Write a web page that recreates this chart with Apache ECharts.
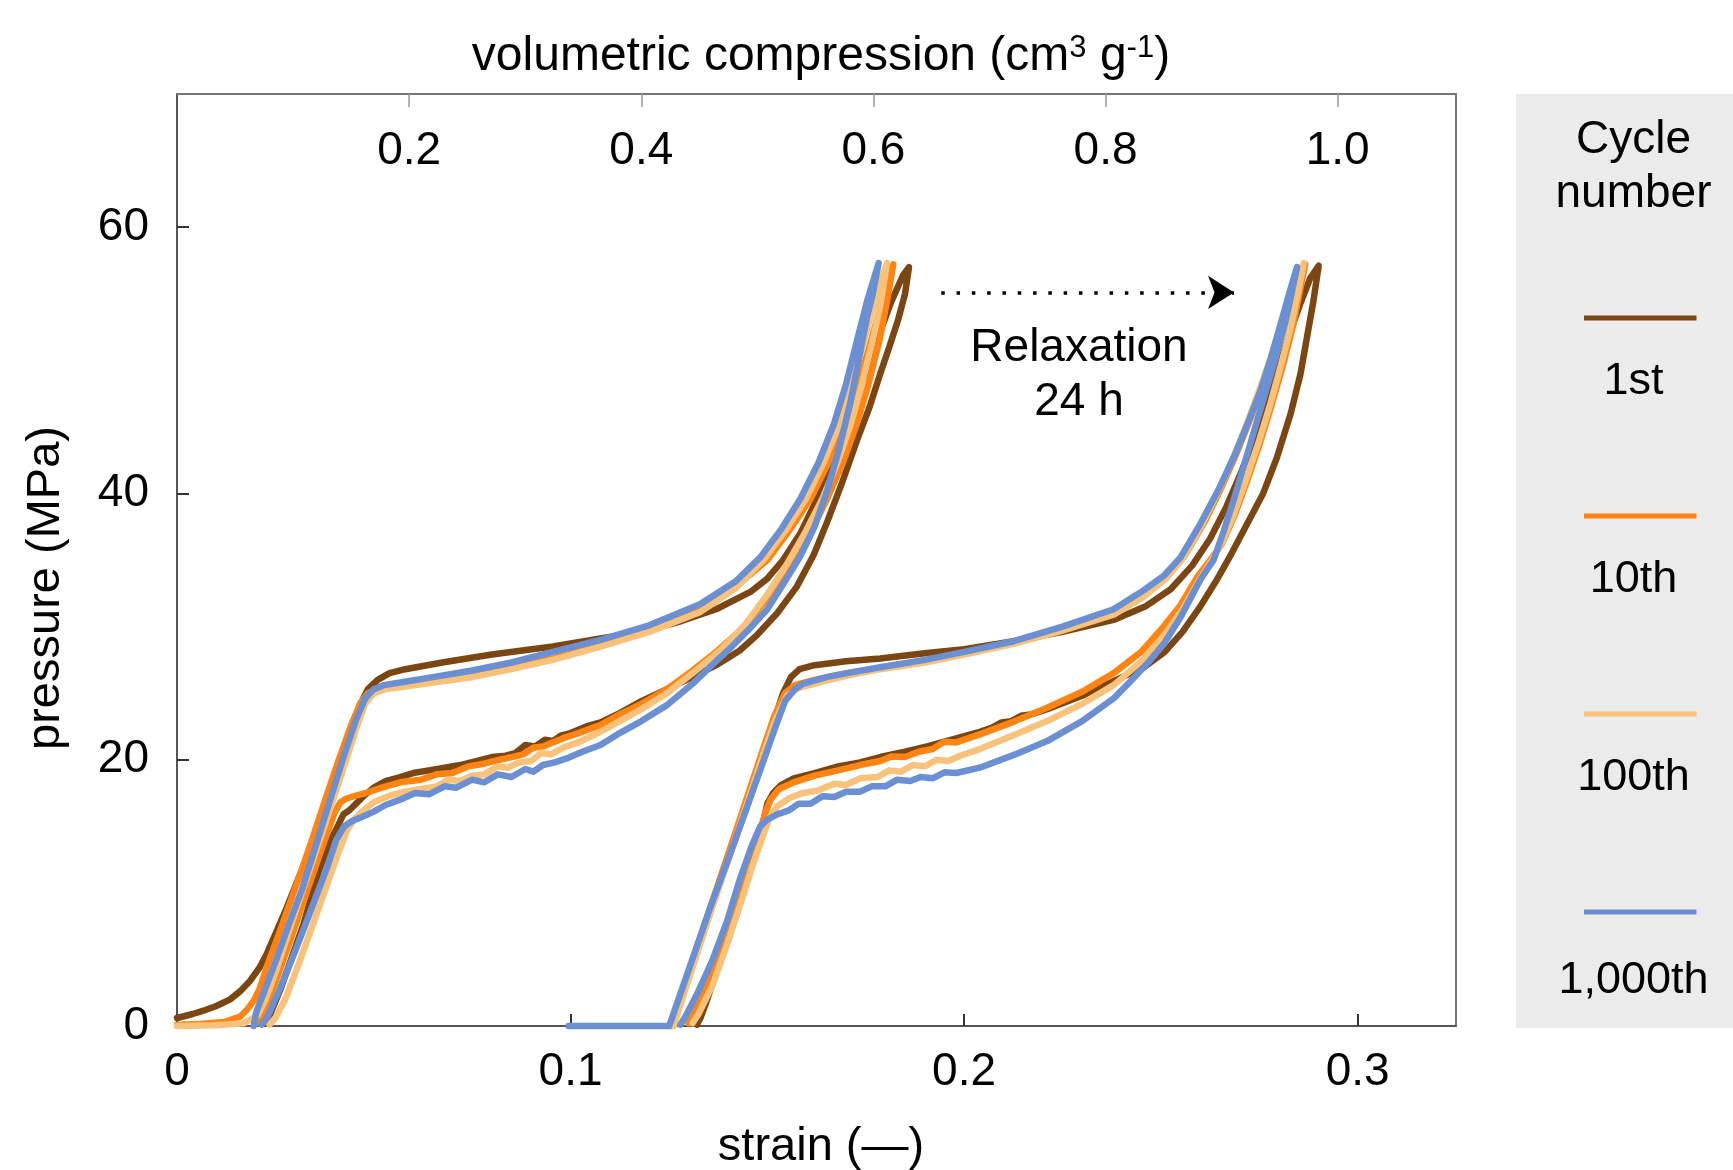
<!DOCTYPE html>
<html><head><meta charset="utf-8">
<script src="https://cdn.jsdelivr.net/npm/echarts@6/dist/echarts.min.js"></script>
<style>html,body{margin:0;padding:0;background:#fff}#chart{width:1733px;height:1170px}</style>
</head><body><div id="chart"></div>
<script>
// ---------- data ----------
const strainTicks = [0, 0.1, 0.2, 0.3];
const pressureTicks = [0, 20, 40, 60];
const volumeTicks = [0.2, 0.4, 0.6, 0.8, 1.0];
const cycleNames = ['1st', '10th', '100th', '1,000th'];

// [strain, pressure MPa]; each loop = loading branch then unloading branch
const cycle1First = [[0.000,0.6],[0.004,0.9],[0.0067,1.15],[0.010,1.5],[0.0135,2.0],[0.016,2.6],[0.0186,3.4],[0.021,4.4],[0.0228,5.4],[0.025,6.9],[0.0279,8.9],[0.031,11.2],[0.0339,13.3],[0.0365,15.5],[0.0389,17.6],[0.0415,19.9],[0.044,22.1],[0.0465,24.1],[0.0485,25.3],[0.051,26.0],[0.054,26.5],[0.058,26.8],[0.0674,27.3],[0.080,27.9],[0.0955,28.5],[0.1076,29.1],[0.118,29.6],[0.128,30.4],[0.137,31.3],[0.1457,32.6],[0.150,33.6],[0.154,35.0],[0.1584,37.0],[0.162,39.2],[0.166,42.0],[0.170,45.0],[0.174,48.3],[0.178,51.6],[0.1815,54.4],[0.1845,56.4],[0.1860,57.0],
[0.1850,55.0],[0.1832,53.0],[0.1810,51.0],[0.1787,49.0],[0.1760,46.5],[0.1728,44.0],[0.1690,40.8],[0.1650,37.7],[0.1618,35.4],[0.1575,33.0],[0.1525,31.0],[0.1475,29.4],[0.1430,28.2],[0.1370,27.1],[0.1310,26.2],[0.1245,25.3],[0.1180,24.4],[0.1125,23.5],[0.1076,22.8],[0.1040,22.5],[0.1000,22.0],[0.0975,21.8],[0.0955,21.4],[0.0935,21.5],[0.0910,21.0],[0.0885,21.1],[0.0860,20.5],[0.0835,20.3],[0.0800,20.2],[0.0760,19.9],[0.0720,19.6],[0.0680,19.4],[0.0640,19.2],[0.0600,19.0],[0.0567,18.7],[0.0530,18.4],[0.0500,17.9],[0.0475,17.3],[0.0455,16.7],[0.0438,16.2],[0.0423,15.9],[0.0405,14.8],[0.0389,13.9],[0.0360,11.6],[0.0322,7.7],[0.0290,5.0],[0.0262,2.7],[0.0240,1.1],[0.0230,0.3]];

const cycle10First = [[0.000,0.1],[0.006,0.15],[0.012,0.3],[0.016,0.7],[0.018,1.3],[0.0195,1.9],[0.021,2.8],[0.023,4.6],[0.026,7.0],[0.029,9.5],[0.032,12.0],[0.035,14.6],[0.038,17.3],[0.041,19.9],[0.044,22.4],[0.0465,24.2],[0.0485,25.0],[0.051,25.3],[0.056,25.5],[0.065,25.9],[0.075,26.3],[0.085,26.9],[0.0955,27.6],[0.1076,28.6],[0.120,29.7],[0.133,31.2],[0.142,33.0],[0.1500,35.0],[0.1558,37.3],[0.1610,39.6],[0.1655,42.3],[0.1697,45.2],[0.1732,48.2],[0.1764,51.5],[0.1793,54.6],[0.1820,57.2],
[0.1805,54.6],[0.1785,51.5],[0.1757,48.2],[0.1727,45.2],[0.1692,42.3],[0.1652,39.6],[0.1605,36.8],[0.1555,34.3],[0.1500,32.1],[0.1435,29.8],[0.1370,28.1],[0.1310,26.7],[0.1245,25.3],[0.1180,24.2],[0.1125,23.4],[0.1076,22.6],[0.1020,22.0],[0.0980,21.6],[0.0955,21.3],[0.0930,21.0],[0.0905,20.9],[0.0880,20.4],[0.0850,20.2],[0.0820,20.0],[0.0780,19.7],[0.0740,19.5],[0.0700,19.0],[0.0660,18.9],[0.0620,18.5],[0.0567,18.3],[0.0520,17.9],[0.0480,17.5],[0.0455,17.3],[0.0432,17.1],[0.0415,16.8],[0.0400,16.0],[0.0370,13.5],[0.0330,10.1],[0.0290,6.6],[0.0250,3.3],[0.0220,0.9],[0.0210,0.2]];

const cycle100First = [[0.000,0.0],[0.010,0.05],[0.017,0.2],[0.0205,0.8],[0.0225,2.0],[0.025,4.0],[0.028,6.7],[0.031,9.4],[0.034,12.0],[0.037,14.6],[0.040,17.3],[0.043,20.0],[0.0455,22.3],[0.0478,24.2],[0.050,25.0],[0.053,25.3],[0.058,25.5],[0.065,25.8],[0.075,26.2],[0.085,26.8],[0.0955,27.5],[0.1076,28.5],[0.120,29.6],[0.133,31.1],[0.142,32.9],[0.1490,35.0],[0.1548,37.3],[0.1598,39.6],[0.1643,42.3],[0.1683,45.2],[0.1716,48.2],[0.1746,51.5],[0.1774,54.6],[0.1804,57.3],
[0.1790,54.6],[0.1768,51.5],[0.1740,48.2],[0.1712,45.2],[0.1678,42.3],[0.1640,39.6],[0.1595,37.0],[0.1548,34.6],[0.1500,32.4],[0.1445,30.2],[0.1380,28.2],[0.1310,26.5],[0.1245,25.0],[0.1180,23.8],[0.1125,22.9],[0.1076,22.1],[0.1020,21.3],[0.0980,20.9],[0.0950,20.4],[0.0925,20.5],[0.0900,19.9],[0.0870,19.8],[0.0840,19.4],[0.0815,19.5],[0.0780,18.9],[0.0750,18.8],[0.0720,18.4],[0.0690,18.5],[0.0660,18.0],[0.0620,17.8],[0.0580,17.6],[0.0540,17.3],[0.0500,16.8],[0.0470,16.1],[0.0450,15.5],[0.0432,14.7],[0.0410,13.0],[0.0380,10.5],[0.0345,7.6],[0.0310,4.7],[0.0275,2.0],[0.0250,0.6],[0.0235,0.1]];

const cycle1000First = [[0.0195,0.0],[0.0201,1.0],[0.0250,4.8],[0.0285,7.7],[0.0317,10.2],[0.0350,13.3],[0.0385,16.6],[0.0423,20.2],[0.0455,23.0],[0.0478,24.6],[0.0500,25.3],[0.0525,25.6],[0.0567,25.8],[0.065,26.2],[0.075,26.7],[0.085,27.3],[0.0955,28.1],[0.1076,29.0],[0.120,30.1],[0.133,31.7],[0.142,33.4],[0.1482,35.2],[0.1535,37.3],[0.1584,39.6],[0.1630,42.3],[0.1669,45.2],[0.1700,48.2],[0.1728,51.5],[0.1755,54.6],[0.1783,57.3],
[0.1768,55.0],[0.1753,53.2],[0.1732,50.0],[0.1711,46.8],[0.1682,43.3],[0.1652,40.2],[0.1620,37.5],[0.1584,35.3],[0.1545,33.4],[0.1500,31.3],[0.1457,29.9],[0.1410,28.5],[0.1370,27.4],[0.1310,25.7],[0.1245,24.1],[0.1180,22.9],[0.1125,22.0],[0.1076,21.1],[0.1030,20.6],[0.0990,20.1],[0.0960,19.8],[0.0930,19.6],[0.0905,19.1],[0.0885,19.3],[0.0850,18.7],[0.0815,18.9],[0.0780,18.3],[0.0750,18.5],[0.0710,17.9],[0.0680,18.0],[0.0640,17.4],[0.0605,17.5],[0.0567,17.0],[0.0530,16.6],[0.0500,16.1],[0.0470,15.7],[0.0445,15.4],[0.0425,15.0],[0.0405,14.0],[0.0380,11.8],[0.0339,8.6],[0.0300,5.6],[0.0260,2.7],[0.0230,0.7],[0.0215,0.1]];

const cycle1Relaxed = [[0.1256,0.0],[0.1260,0.4],[0.1305,4.3],[0.1358,8.9],[0.1403,12.7],[0.1450,16.7],[0.1490,20.2],[0.1518,23.0],[0.1540,25.0],[0.1560,26.2],[0.1582,26.8],[0.1620,27.1],[0.1700,27.4],[0.1787,27.6],[0.1900,28.0],[0.2000,28.3],[0.2126,28.9],[0.2250,29.6],[0.2380,30.5],[0.2460,31.5],[0.2525,32.8],[0.2580,34.6],[0.2625,36.6],[0.2665,38.9],[0.2700,41.3],[0.2735,43.9],[0.2765,46.5],[0.2795,49.2],[0.2825,51.8],[0.2855,54.3],[0.2880,56.2],[0.2901,57.1],
[0.2888,54.5],[0.2873,52.0],[0.2855,49.0],[0.2830,46.0],[0.2795,42.7],[0.2760,40.0],[0.2719,37.7],[0.2680,35.5],[0.2640,33.4],[0.2600,31.5],[0.2555,29.6],[0.2510,28.1],[0.2460,27.0],[0.2380,25.9],[0.2300,24.8],[0.2211,23.8],[0.2170,23.4],[0.2145,23.3],[0.2120,22.9],[0.2095,22.8],[0.2070,22.4],[0.2040,22.1],[0.1980,21.6],[0.1906,21.0],[0.1850,20.6],[0.1787,20.2],[0.1736,19.8],[0.1680,19.5],[0.1620,19.0],[0.1567,18.6],[0.1535,18.1],[0.1515,17.5],[0.1500,16.7],[0.1491,15.5],[0.1470,13.6],[0.1448,11.4],[0.1420,8.8],[0.1398,6.6],[0.1370,4.0],[0.1345,1.8],[0.1330,0.6],[0.1321,0.1]];

const cycle10Relaxed = [[0.1258,0.0],[0.1262,0.4],[0.1305,4.4],[0.1355,8.9],[0.1405,13.3],[0.1450,17.3],[0.1487,20.6],[0.1518,23.3],[0.1545,25.0],[0.1570,25.6],[0.1620,26.0],[0.1700,26.5],[0.1787,26.9],[0.1900,27.4],[0.2000,28.0],[0.2126,28.8],[0.2250,29.8],[0.2380,31.0],[0.2455,32.3],[0.2515,33.7],[0.2560,35.3],[0.2610,37.8],[0.2655,40.5],[0.2695,43.2],[0.2730,45.8],[0.2762,48.4],[0.2792,51.0],[0.2820,53.5],[0.2845,55.6],[0.2867,57.2],
[0.2852,55.0],[0.2835,52.5],[0.2810,49.6],[0.2782,46.7],[0.2752,43.8],[0.2720,41.0],[0.2688,38.4],[0.2655,36.2],[0.2626,35.0],[0.2592,33.7],[0.2550,31.6],[0.2507,30.0],[0.2450,28.1],[0.2380,26.5],[0.2300,25.1],[0.2211,23.9],[0.2130,22.9],[0.2040,21.9],[0.1980,21.3],[0.1950,21.35],[0.1920,20.8],[0.1885,20.6],[0.1850,20.2],[0.1815,20.25],[0.1787,19.9],[0.1736,19.6],[0.1680,19.2],[0.1620,18.8],[0.1567,18.3],[0.1530,17.8],[0.1508,17.0],[0.1495,16.0],[0.1480,14.5],[0.1455,12.2],[0.1420,9.0],[0.1385,6.0],[0.1350,3.2],[0.1315,1.0],[0.1300,0.2]];

const cycle100Relaxed = [[0.1262,0.0],[0.1266,0.4],[0.1310,4.4],[0.1360,8.9],[0.1410,13.3],[0.1455,17.3],[0.1492,20.6],[0.1522,23.1],[0.1550,24.8],[0.1580,25.4],[0.1630,25.8],[0.1700,26.3],[0.1787,26.8],[0.1900,27.3],[0.2000,27.9],[0.2126,28.7],[0.2250,29.7],[0.2380,30.9],[0.2455,32.2],[0.2512,33.6],[0.2557,35.2],[0.2605,37.7],[0.2650,40.4],[0.2690,43.1],[0.2726,45.8],[0.2758,48.4],[0.2788,51.0],[0.2815,53.5],[0.2840,55.6],[0.2863,57.3],
[0.2848,55.0],[0.2830,52.5],[0.2805,49.6],[0.2778,46.7],[0.2748,43.8],[0.2716,41.0],[0.2685,38.4],[0.2655,36.3],[0.2630,35.0],[0.2596,33.4],[0.2555,31.3],[0.2510,29.4],[0.2455,27.5],[0.2380,25.6],[0.2300,24.2],[0.2211,22.9],[0.2130,21.9],[0.2040,20.8],[0.1990,20.3],[0.1960,19.9],[0.1930,20.0],[0.1900,19.5],[0.1870,19.6],[0.1840,19.1],[0.1810,19.2],[0.1780,18.7],[0.1736,18.6],[0.1700,18.1],[0.1670,18.2],[0.1630,17.7],[0.1590,17.5],[0.1555,17.1],[0.1525,16.5],[0.1505,15.6],[0.1488,14.2],[0.1462,12.0],[0.1430,9.0],[0.1395,5.9],[0.1360,3.0],[0.1325,0.9],[0.1310,0.2]];

const cycle1000Relaxed = [[0.0995,0.0],[0.1125,0.0],[0.1250,0.0],[0.1253,0.2],[0.1300,4.2],[0.1355,8.9],[0.1400,12.5],[0.1448,16.4],[0.1490,19.9],[0.1520,22.4],[0.1545,24.4],[0.1570,25.3],[0.1590,25.7],[0.1650,26.2],[0.1720,26.6],[0.1787,26.95],[0.1900,27.5],[0.2000,28.1],[0.2126,28.9],[0.2250,30.0],[0.2380,31.3],[0.2455,32.7],[0.2507,33.8],[0.2550,35.2],[0.2600,37.7],[0.2645,40.2],[0.2685,42.7],[0.2720,45.2],[0.2753,47.7],[0.2780,50.2],[0.2804,52.7],[0.2826,55.0],[0.2846,57.0],
[0.2832,55.0],[0.2815,52.7],[0.2790,50.0],[0.2765,47.5],[0.2740,45.0],[0.2710,42.0],[0.2685,39.5],[0.2660,37.2],[0.2634,35.0],[0.2600,33.5],[0.2575,32.1],[0.2550,30.7],[0.2510,28.8],[0.2465,27.2],[0.2420,25.8],[0.2380,24.6],[0.2300,22.9],[0.2211,21.4],[0.2130,20.4],[0.2040,19.4],[0.1980,19.0],[0.1950,19.05],[0.1920,18.6],[0.1890,18.7],[0.1863,18.4],[0.1830,18.5],[0.1800,18.0],[0.1765,18.0],[0.1736,17.6],[0.1700,17.6],[0.1670,17.2],[0.1640,17.25],[0.1610,16.7],[0.1580,16.7],[0.1555,16.2],[0.1525,15.9],[0.1500,15.5],[0.1482,15.0],[0.1460,13.5],[0.1430,11.0],[0.1398,7.9],[0.1360,4.9],[0.1320,2.3],[0.1290,0.6],[0.1279,0.1]];

// annotation arrow (strain, pressure)
const relaxArrowStart = [0.1942, 55.1];
const relaxArrowEnd = [0.2686, 55.1];

// ---------- chart ----------
const FONT = '"Liberation Sans", Arial, Helvetica, sans-serif';
const COLORS = ['#7b4612', '#ff8412', '#f9c27a', '#6a8fd3'];
const loops = [
  [cycle1First, cycle1Relaxed],
  [cycle10First, cycle10Relaxed],
  [cycle100First, cycle100Relaxed],
  [cycle1000First, cycle1000Relaxed]
];

const series = [];
loops.forEach((pair, i) => {
  pair.forEach((d) => {
    series.push({
      type: 'line', name: cycleNames[i], data: d, xAxisIndex: 0, yAxisIndex: 0,
      showSymbol: false, symbol: 'none', clip: false, smooth: false,
      lineStyle: { color: COLORS[i], width: 6.5, cap: 'round', join: 'round' },
      itemStyle: { color: COLORS[i] }, z: 2 + i
    });
  });
});
series[series.length - 1].markLine = {
  silent: true, symbol: ['none', 'arrow'], symbolSize: [25, 26],
  label: { show: false }, itemStyle: { color: '#000' },
  lineStyle: { color: '#000', width: 3.5, type: [3.5, 11.8], cap: 'butt' },
  emphasis: { disabled: true },
  data: [[{ coord: relaxArrowStart }, { coord: relaxArrowEnd }]]
};

const fmt1 = v => (Math.abs(v) < 1e-9 ? '0' : (+v).toFixed(1));
const onList = (list, v) => list.some(t => Math.abs(t - v) < 1e-6);

const legendItems = [];
const legendCx = 1633.5;
const lineYs = [318, 516, 714, 912];
const labelYs = [382, 580, 778, 981];
legendItems.push({ type: 'rect', shape: { x: 1516, y: 94, width: 217, height: 934 }, style: { fill: '#ebebeb' }, z: 0 });
legendItems.push({ type: 'text', x: legendCx, y: 140, style: { text: 'Cycle', fontSize: 46, fontFamily: FONT, fill: '#000', align: 'center', verticalAlign: 'middle' }, z: 1 });
legendItems.push({ type: 'text', x: legendCx, y: 194, style: { text: 'number', fontSize: 46, fontFamily: FONT, fill: '#000', align: 'center', verticalAlign: 'middle' }, z: 1 });
cycleNames.forEach((n, i) => {
  legendItems.push({ type: 'line', shape: { x1: 1584, y1: lineYs[i], x2: 1696.5, y2: lineYs[i] }, style: { stroke: COLORS[i], lineWidth: 5 }, z: 1 });
  legendItems.push({ type: 'text', x: legendCx, y: labelYs[i], style: { text: n, fontSize: 45, fontFamily: FONT, fill: '#000', align: 'center', verticalAlign: 'middle' }, z: 1 });
});

const titleItems = [
  { type: 'text', x: 821, y: 57, style: {
      text: 'volumetric compression (cm{sup|3} g{sup|-1})', fontSize: 48, fontFamily: FONT, fill: '#000',
      align: 'center', verticalAlign: 'middle',
      rich: { sup: { fontSize: 31, lineHeight: 22, verticalAlign: 'top', fontFamily: FONT, fill: '#000' } } } },
  { type: 'text', x: 821, y: 1147, style: { text: 'strain (\u2014)', fontSize: 47, fontFamily: FONT, fill: '#000', align: 'center', verticalAlign: 'middle' } },
  { type: 'text', x: 46, y: 588, rotation: Math.PI / 2, style: { text: 'pressure (MPa)', fontSize: 47, fontFamily: FONT, fill: '#000', align: 'center', verticalAlign: 'middle' } },
  { type: 'text', x: 1079, y: 348, style: { text: 'Relaxation', fontSize: 46, fontFamily: FONT, fill: '#000', align: 'center', verticalAlign: 'middle' } },
  { type: 'text', x: 1079, y: 402, style: { text: '24 h', fontSize: 46, fontFamily: FONT, fill: '#000', align: 'center', verticalAlign: 'middle' } }
];

const chart = echarts.init(document.getElementById('chart'), null, { renderer: 'canvas' });
chart.setOption({
  animation: false,
  backgroundColor: '#ffffff',
  grid: { left: 177, top: 94, width: 1279, height: 932, show: true, borderColor: '#777', borderWidth: 2, backgroundColor: 'transparent' },
  xAxis: [
    { type: 'value', position: 'bottom', min: 0, max: 0.325, interval: 0.1,
      axisLine: { show: true, onZero: false, lineStyle: { color: '#555', width: 2 } },
      axisTick: { show: true, inside: true, length: 12, lineStyle: { color: '#333', width: 2 } },
      axisLabel: { margin: 23, fontSize: 46, fontFamily: FONT, color: '#000', showMaxLabel: false,
        formatter: v => onList(strainTicks, v) ? fmt1(v) : '' },
      splitLine: { show: false } },
    { type: 'value', position: 'top', min: 0, max: 1.1019, interval: 0.2,
      axisLine: { show: true, onZero: false, lineStyle: { color: '#777', width: 2 } },
      axisTick: { show: true, inside: true, length: 13, lineStyle: { color: '#999', width: 1.5 } },
      axisLabel: { inside: true, margin: 34, fontSize: 46, fontFamily: FONT, color: '#000', showMinLabel: false, showMaxLabel: false,
        formatter: v => onList(volumeTicks, v) ? fmt1(v) : '' },
      splitLine: { show: false } }
  ],
  yAxis: [
    { type: 'value', min: 0, max: 70, interval: 20,
      axisLine: { show: true, onZero: false, lineStyle: { color: '#555', width: 2 } },
      axisTick: { show: true, inside: true, length: 12, lineStyle: { color: '#333', width: 2 } },
      axisLabel: { margin: 28, fontSize: 46, fontFamily: FONT, color: '#000', showMaxLabel: false,
        formatter: v => onList(pressureTicks, v) ? String(Math.round(v)) : '' },
      splitLine: { show: false } }
  ],
  series: series,
  graphic: { elements: legendItems.concat(titleItems) }
});
</script>
</body></html>
